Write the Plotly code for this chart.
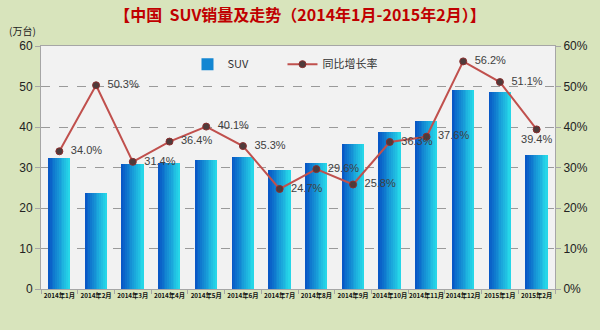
import plotly.graph_objects as go

categories = ["2014年1月", "2014年2月", "2014年3月", "2014年4月", "2014年5月", "2014年6月",
              "2014年7月", "2014年8月", "2014年9月", "2014年10月", "2014年11月", "2014年12月",
              "2015年1月", "2015年2月"]
suv_sales = [32.3, 23.8, 30.9, 31.1, 31.9, 32.5, 29.3, 31.1, 35.7, 38.7, 41.4, 49.2, 48.6, 33.1]
growth = [0.340, 0.503, 0.314, 0.364, 0.401, 0.353, 0.247, 0.296, 0.258, 0.363, 0.376, 0.562, 0.511, 0.394]
growth_pos = ["middle right"] * 13 + ["bottom center"]

FONT = "Liberation Sans, Noto Sans CJK SC, sans-serif"
CJK = "Noto Sans CJK SC, sans-serif"
NARROW = "Liberation Sans Narrow, Noto Sans CJK SC, sans-serif"

fig = go.Figure()

# gradient bars via slices
c0 = (8, 88, 198)
c1 = (38, 214, 232)
K = 12
W = 0.59
for i in range(K):
    t = i / (K - 1)
    col = tuple(round(c0[j] + (c1[j] - c0[j]) * t) for j in range(3))
    fig.add_trace(go.Bar(
        x=categories, y=suv_sales,
        width=W / K + 0.004, offset=-W / 2 + i * W / K,
        marker=dict(color="rgb(%d,%d,%d)" % col, line=dict(width=0)),
        name="SUV", showlegend=(i == 4), hoverinfo="skip",
    ))

fig.add_trace(go.Scatter(
    x=categories, y=growth, yaxis="y2", name="同比增长率",
    mode="lines+markers+text",
    line=dict(color="#C0504D", width=2),
    marker=dict(symbol="circle", size=7, color="#4F3B3B", line=dict(color="#8B2E2E", width=1)),
    text=["  %.1f%%" % (g * 100) if p == "middle right" else "%.1f%%" % (g * 100)
          for g, p in zip(growth, growth_pos)],
    textposition=growth_pos,
    textfont=dict(family=FONT, size=11, color="#404040"),
))

fig.update_layout(
    width=600, height=330,
    margin=dict(l=41, r=42, t=46, b=41),
    paper_bgcolor="#D8E4BC",
    plot_bgcolor="#F2F2F2",
    barmode="overlay",
    bargap=0,
    font=dict(family=FONT, color="#222222"),
    title=dict(text="<b>【中国  SUV销量及走势（2014年1月-2015年2月）】</b>",
               x=0.5, xanchor="center", y=0.952, yanchor="middle",
               font=dict(family=CJK, size=16, color="#C00000")),
    legend=dict(orientation="h", x=0.285, xanchor="left", y=0.985, yanchor="top",
                bgcolor="rgba(0,0,0,0)", font=dict(family=CJK, size=11, color="#333333"),
                itemwidth=30, entrywidth=50),
    xaxis=dict(
        type="category", range=[-0.5, 13.5], showline=True, linecolor="#A6A6A6", mirror=True,
        ticks="outside", tickson="boundaries", ticklen=4, tickcolor="#A6A6A6",
        tickfont=dict(family=NARROW, size=6.3, color="#111111", weight="bold"),
        tickangle=0, showgrid=False,
    ),
    yaxis=dict(
        range=[0, 60], dtick=10, showline=True, linecolor="#A6A6A6", mirror=True,
        ticks="outside", ticklen=5, tickcolor="#A6A6A6",
        tickfont=dict(family=FONT, size=12, color="#222222"),
        showgrid=True, gridcolor="#9A9A9A", griddash="dash", gridwidth=1, zeroline=False,
    ),
    yaxis2=dict(
        range=[0, 0.6], dtick=0.1, tickformat=".0%", overlaying="y", side="right",
        ticks="outside", ticklen=5, tickcolor="#A6A6A6", showline=True, linecolor="#A6A6A6",
        tickfont=dict(family=FONT, size=12, color="#222222"),
        showgrid=False, zeroline=False,
    ),
    annotations=[dict(text="(万台)", xref="paper", yref="paper", x=-0.005, y=1.025,
                      xanchor="right", yanchor="bottom", showarrow=False,
                      font=dict(family=CJK, size=10, color="#222222"))],
)

fig.write_html("out.html")
